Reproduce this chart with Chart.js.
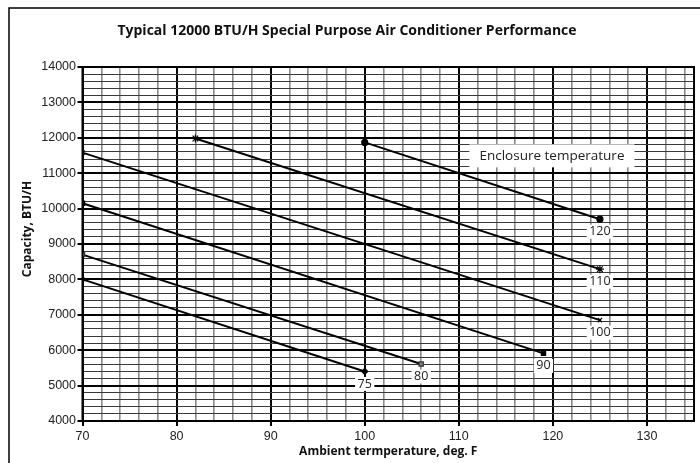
<!DOCTYPE html>
<html>
<head>
<meta charset="utf-8">
<script src="https://cdn.jsdelivr.net/npm/chart.js@4.4.1/dist/chart.umd.min.js"></script>
<style>
  html, body { margin: 0; padding: 0; background: #fff; overflow: hidden; }
  #wrap { position: relative; width: 700px; height: 463px; }
</style>
</head>
<body>
<div id="wrap"><canvas id="chart" width="700" height="463"></canvas></div>
<script>
// Enclosure temperature curves (deg. F), each a straight run between two points
const enclosureTemps = ['75', '80', '90', '100', '110', '120'];
const startAmbient = [70, 70, 70, 70, 82, 100];
const startCapacity = [8000, 8700, 10150, 11580, 11980, 11870];
const endAmbient = [100, 106, 119, 125, 125, 125];
const endCapacity = [5400, 5610, 5910, 6850, 8290, 9700];
const markerStyles = ['rectRot', 'rect', 'rect', 'crossRot', 'star', 'circle'];
const markerFills = ['#000', '#808080', '#000', '#000', '#000', '#000'];

const xTickLabels = [70, 80, 90, 100, 110, 120, 130];
const yTickLabels = [4000, 5000, 6000, 7000, 8000, 9000, 10000, 11000, 12000, 13000, 14000];

const TICK_FONT = '"Liberation Sans", Arial, sans-serif';
const TEXT_FONT = '"Open Sans", "Liberation Sans", sans-serif';

function range(a, b, step) {
  const out = [];
  for (let v = a; v <= b + 1e-9; v += step) out.push(v);
  return out;
}

const datasets = enclosureTemps.map((t, i) => ({
  label: t,
  data: [
    { x: startAmbient[i], y: startCapacity[i] },
    { x: endAmbient[i], y: endCapacity[i] },
  ],
  borderColor: '#000',
  borderWidth: 2,
  pointStyle: markerStyles[i],
  pointRadius: markerStyles[i] === 'star' ? 4 : 3,
  pointBackgroundColor: markerFills[i],
  pointBorderColor: i === 1 ? '#333' : '#000',
  pointBorderWidth: 1.2,
  tension: 0,
}));

const decorPlugin = {
  id: 'decor',
  beforeDraw(chart) {
    const ctx = chart.ctx;
    ctx.save();
    ctx.strokeStyle = '#000';
    ctx.lineWidth = 1.5;
    ctx.strokeRect(9, 8, 900, 900);
    // y axis title, sits a little above the plot middle like the original
    ctx.translate(28, 229);
    ctx.rotate(-Math.PI / 2);
    ctx.font = 'bold 12px ' + TEXT_FONT;
    ctx.fillStyle = '#111';
    ctx.textAlign = 'center';
    ctx.textBaseline = 'middle';
    ctx.fillText('Capacity, BTU/H', 0, 0);
    ctx.restore();
  },
  afterDatasetsDraw(chart) {
    const ctx = chart.ctx;
    const area = chart.chartArea;
    const xs = chart.scales.x;
    const ys = chart.scales.y;
    ctx.save();
    // plot frame
    ctx.strokeStyle = '#000';
    ctx.lineWidth = 2;
    ctx.strokeRect(area.left, area.top, area.right - area.left, area.bottom - area.top);

    // series labels under the end markers
    ctx.font = '12.5px ' + TEXT_FONT;
    ctx.textAlign = 'center';
    ctx.textBaseline = 'middle';
    chart.data.datasets.forEach((ds, i) => {
      const pts = chart.getDatasetMeta(i).data;
      const p = pts[pts.length - 1];
      const tx = p.x;
      const ty = p.y + 12.5;
      const w = ctx.measureText(ds.label).width + 5;
      ctx.fillStyle = '#fff';
      ctx.fillRect(tx - w / 2, ty - 7, w, 14);
      ctx.fillStyle = '#222';
      ctx.fillText(ds.label, tx, ty);
    });

    // "Enclosure temperature" note
    const note = 'Enclosure temperature';
    ctx.font = '13.5px ' + TEXT_FONT;
    const nx = xs.getPixelForValue(119.9);
    const ny = ys.getPixelForValue(11490);
    const nw = ctx.measureText(note).width + 20;
    ctx.fillStyle = '#fff';
    ctx.fillRect(nx - nw / 2, ny - 11.5, nw, 23);
    ctx.fillStyle = '#222';
    ctx.fillText(note, nx, ny);
    ctx.restore();
  },
};

new Chart(document.getElementById('chart'), {
  type: 'line',
  data: { datasets },
  options: {
    responsive: false,
    animation: false,
    layout: { padding: { left: 0, right: 6, top: 0, bottom: 0 } },
    plugins: {
      legend: { display: false },
      tooltip: { enabled: false },
      title: {
        display: true,
        text: 'Typical 12000 BTU/H Special Purpose Air Conditioner Performance',
        color: '#111',
        font: { family: TEXT_FONT, size: 14, weight: 'bold' },
        padding: { top: 23, bottom: 27.2 },
      },
    },
    scales: {
      x: {
        type: 'linear',
        min: 70,
        max: 135,
        afterBuildTicks: (s) => { s.ticks = range(70, 134, 2).map((v) => ({ value: v })); },
        afterFit: (s) => { s.height = 42; },
        ticks: {
          autoSkip: false,
          maxRotation: 0,
          padding: 3,
          color: '#222',
          font: { family: TICK_FONT, size: 12.5 },
          callback: (v) => (xTickLabels.includes(v) ? String(v) : ''),
        },
        grid: {
          color: (c) => (c.tick && c.tick.value % 10 === 0 ? '#000' : '#8a8a8a'),
          lineWidth: (c) => (c.tick && c.tick.value % 10 === 0 ? 2 : 1.6),
          tickLength: 5,
          tickColor: (c) => (c.tick && c.tick.value % 10 === 0 ? '#000' : 'rgba(0,0,0,0)'),
        },
        border: { display: true, color: '#000', width: 2 },
        title: {
          display: true,
          text: 'Ambient termperature, deg. F',
          color: '#111',
          font: { family: TEXT_FONT, size: 12, weight: 'bold' },
          padding: { top: 0, bottom: 4 },
        },
      },
      y: {
        type: 'linear',
        min: 4000,
        max: 14000,
        afterBuildTicks: (s) => { s.ticks = range(4000, 14000, 200).map((v) => ({ value: v })); },
        afterFit: (s) => { s.width = 82.5; },
        ticks: {
          autoSkip: false,
          padding: 1.5,
          color: '#222',
          font: { family: TICK_FONT, size: 12.5 },
          callback: (v) => (yTickLabels.includes(v) ? String(v) : ''),
        },
        grid: {
          color: (c) => (c.tick && c.tick.value % 1000 === 0 ? '#000' : '#3a3a3a'),
          lineWidth: (c) => (c.tick && c.tick.value % 1000 === 0 ? 2 : 1),
          tickLength: 5,
          tickColor: (c) => (c.tick && c.tick.value % 1000 === 0 ? '#000' : 'rgba(0,0,0,0)'),
        },
        border: { display: true, color: '#000', width: 2 },
      },
    },
  },
  plugins: [decorPlugin],
});
</script>
</body>
</html>
